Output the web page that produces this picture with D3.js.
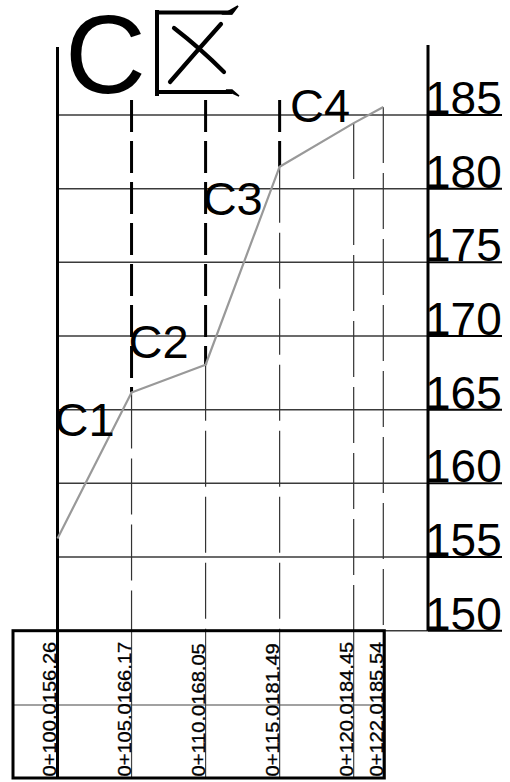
<!DOCTYPE html>
<html>
<head>
<meta charset="utf-8">
<script src="https://cdn.jsdelivr.net/npm/d3@7"></script>
<style>
  html, body { margin: 0; padding: 0; background: #fff; }
  svg { display: block; font-family: "Liberation Sans", Arial, sans-serif; }
</style>
</head>
<body>
<svg id="chart" width="510" height="782"></svg>
<script>
// Profile stations (chainage) and ground elevations
const stations = [100, 105, 110, 115, 120, 122];
const elevations = [156.26, 166.17, 168.05, 181.49, 184.45, 185.54];

// Elevation scale ticks
const elevationTicks = [150, 155, 160, 165, 170, 175, 180, 185];

// Curve markers and where their text starts (station, elevation)
const curveLabels = ["C1", "C2", "C3", "C4"];
const curveLabelStations = [99.8, 104.8, 109.8, 115.7];
const curveLabelElevations = [163.2, 168.5, 178.2, 184.5];

// Stations whose upper guide is drawn as a heavy dashed line
const heavyStations = [105, 110, 115];

const svg = d3.select("#chart");

const x = d3.scaleLinear().domain([100, 122]).range([57.5, 383.3]);
const y = d3.scaleLinear().domain([150, 185]).range([630.7, 115]);

const axisRightX = 428;
const tableLeft = 13;
const tableBottom = 778;
const tableMid = 705;

// horizontal grid
const grid = svg.append("g");
grid.selectAll("line.grid")
  .data(elevationTicks)
  .join("line")
  .attr("class", "grid")
  .attr("x1", x(100)).attr("x2", axisRightX)
  .attr("y1", d => y(d)).attr("y2", d => y(d))
  .attr("stroke", "#3a3a3a").attr("stroke-width", 1.5);

// tick labels with underline
const tickG = svg.append("g");
tickG.selectAll("line.under")
  .data(elevationTicks)
  .join("line")
  .attr("x1", axisRightX).attr("x2", 502)
  .attr("y1", d => y(d)).attr("y2", d => y(d))
  .attr("stroke", "#000").attr("stroke-width", 2);
tickG.selectAll("text")
  .data(elevationTicks)
  .join("text")
  .attr("x", 425)
  .attr("y", d => y(d) - 1)
  .attr("font-size", 46)
  .attr("fill", "#000")
  .text(d => d);

// right elevation axis
svg.append("line")
  .attr("x1", axisRightX).attr("x2", axisRightX)
  .attr("y1", 45).attr("y2", y(150))
  .attr("stroke", "#000").attr("stroke-width", 3);

// station guides
const guides = svg.append("g");
stations.forEach((s, i) => {
  if (i === 0) return;
  guides.append("line")
    .attr("x1", x(s)).attr("x2", x(s))
    .attr("y1", y(elevations[i])).attr("y2", y(150))
    .attr("stroke", "#333").attr("stroke-width", 1.2)
    .attr("stroke-dasharray", "56,10");
  guides.append("line")
    .attr("x1", x(s)).attr("x2", x(s))
    .attr("y1", y(150)).attr("y2", tableBottom)
    .attr("stroke", "#444").attr("stroke-width", 1.2);
  if (heavyStations.includes(s)) {
    guides.append("line")
      .attr("x1", x(s)).attr("x2", x(s))
      .attr("y1", 100).attr("y2", y(elevations[i]))
      .attr("stroke", "#000").attr("stroke-width", 3)
      .attr("stroke-dasharray", "32,9");
  }
});

// table frame
svg.append("line")
  .attr("x1", tableLeft).attr("x2", x(122) + 1)
  .attr("y1", tableMid).attr("y2", tableMid)
  .attr("stroke", "#444").attr("stroke-width", 1.2);
svg.append("rect")
  .attr("x", tableLeft).attr("y", y(150))
  .attr("width", x(122) + 1 - tableLeft)
  .attr("height", tableBottom - y(150))
  .attr("fill", "none").attr("stroke", "#000").attr("stroke-width", 3);

// left axis
svg.append("line")
  .attr("x1", x(100)).attr("x2", x(100))
  .attr("y1", 47).attr("y2", tableBottom)
  .attr("stroke", "#000").attr("stroke-width", 3);

// ground profile
const line = d3.line().x((d, i) => x(stations[i])).y(d => y(d));
svg.append("path")
  .attr("d", line(elevations))
  .attr("fill", "none")
  .attr("stroke", "#999")
  .attr("stroke-width", 2.2)
  .attr("stroke-linejoin", "round");

// curve labels
svg.append("g").selectAll("text")
  .data(curveLabels)
  .join("text")
  .attr("x", (d, i) => x(curveLabelStations[i]))
  .attr("y", (d, i) => y(curveLabelElevations[i]))
  .attr("font-size", 47)
  .attr("fill", "#000")
  .text(d => d);

// station / elevation table text, read bottom to top
svg.append("g")
  .selectAll("text")
  .data(stations)
  .join("text")
  .attr("transform", (d, i) => `translate(${x(d) - (i === 0 ? 1.5 : 0.8)},776.5) rotate(-90) scale(1.15,1)`)
  .attr("font-size", 17.5)
  .attr("fill", "#000")
  .attr("stroke", "#000").attr("stroke-width", 0.3)
  .text((d, i) => "0+" + d.toFixed(1) + elevations[i].toFixed(2));

// title
const title = svg.append("g");
title.append("text")
  .attr("x", 65).attr("y", 93)
  .attr("font-size", 112)
  .attr("fill", "#000")
  .text("C");
title.append("path")
  .attr("d", "M157,10 L157,96 M157,12.5 L232,12.5 M157,92 L232,92")
  .attr("fill", "none").attr("stroke", "#000").attr("stroke-width", 4);
title.append("path")
  .attr("d", "M224,14 L238,6 L232,14 Z M226,90 L239,96 L232,90 Z")
  .attr("fill", "#000").attr("stroke", "#000").attr("stroke-width", 1.5);
title.append("path")
  .attr("d", "M174,28 Q200,48 224,72 M221,24 Q196,52 170,82")
  .attr("fill", "none").attr("stroke", "#000").attr("stroke-width", 4.2)
  .attr("stroke-linecap", "round");
</script>
</body>
</html>
